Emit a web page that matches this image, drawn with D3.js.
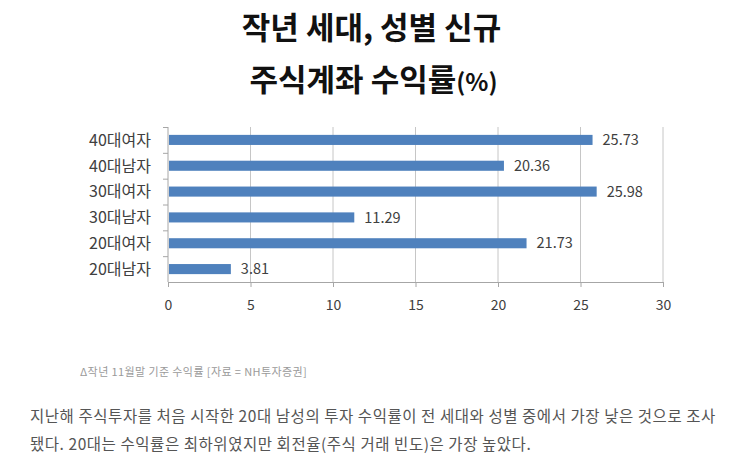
<!DOCTYPE html>
<html>
<head>
<meta charset="utf-8">
<script src="https://cdn.jsdelivr.net/npm/d3@7"></script>
<style>
  body { margin: 0; background: #fff; }
  text { font-family: "Noto Sans CJK KR", "Noto Sans", sans-serif; }
</style>
</head>
<body>
<div id="chart"></div>
<script>
// categories top to bottom, as shown
const categories = ["40대여자", "40대남자", "30대여자", "30대남자", "20대여자", "20대남자"];
const returns = [25.73, 20.36, 25.98, 11.29, 21.73, 3.81];
const xTicks = [0, 5, 10, 15, 20, 25, 30];

const titleLines = ["작년 세대, 성별 신규", "주식계좌 수익률"];
const note = "Δ작년 11월말 기준 수익률 [자료 = NH투자증권]";
const bodyLines = [
  "지난해 주식투자를 처음 시작한 20대 남성의 투자 수익률이 전 세대와 성별 중에서 가장 낮은 것으로 조사",
  "됐다. 20대는 수익률은 최하위였지만 회전율(주식 거래 빈도)은 가장 높았다."
];

const width = 743, height = 470;
const plot = { left: 168, right: 663, top: 127, bottom: 282 };

const svg = d3.select("#chart").append("svg")
  .attr("width", width)
  .attr("height", height);

// title
svg.append("text")
  .attr("x", width / 2).attr("y", 39)
  .attr("text-anchor", "middle")
  .attr("font-size", 31).attr("font-weight", "bold").attr("fill", "#111")
  .text(titleLines[0]);

const t2 = svg.append("text")
  .attr("x", width / 2 + 2).attr("y", 91)
  .attr("text-anchor", "middle")
  .attr("font-weight", "bold").attr("fill", "#111");
t2.append("tspan").attr("font-size", 31).text(titleLines[1]);
t2.append("tspan").attr("font-size", 24).text("(%)");

const x = d3.scaleLinear().domain([0, 30]).range([plot.left, plot.right]);
const y = d3.scaleBand().domain(categories).range([plot.top, plot.bottom]).paddingInner(0.61).paddingOuter(0.305);
const yTickScale = d3.scaleBand().domain(categories).range([plot.top, plot.bottom]);

// vertical gridlines
svg.append("g")
  .selectAll("line")
  .data(xTicks.slice(1))
  .join("line")
  .attr("x1", d => x(d)).attr("x2", d => x(d))
  .attr("y1", plot.top).attr("y2", plot.bottom)
  .attr("stroke", "#c6c6c6").attr("stroke-width", 1);

// x axis
const xAxis = svg.append("g")
  .attr("transform", `translate(0,${plot.bottom})`)
  .call(d3.axisBottom(x).tickValues(xTicks).tickSize(5).tickPadding(13));
xAxis.select(".domain").attr("stroke", "#a6a6a6");
xAxis.selectAll(".tick line").attr("stroke", "#a6a6a6");
xAxis.selectAll(".tick text")
  .attr("font-size", 14).attr("fill", "#404040")
  .style("font-family", "'Noto Sans CJK KR', sans-serif");

// y axis: line with tick marks between categories
svg.append("line")
  .attr("x1", plot.left).attr("x2", plot.left)
  .attr("y1", plot.top).attr("y2", plot.bottom)
  .attr("stroke", "#a6a6a6");
svg.append("g")
  .selectAll("line")
  .data(categories)
  .join("line")
  .attr("x1", plot.left - 5).attr("x2", plot.left)
  .attr("y1", d => yTickScale(d) + 0.5).attr("y2", d => yTickScale(d) + 0.5)
  .attr("stroke", "#a6a6a6");

// category labels
svg.append("g")
  .selectAll("text")
  .data(categories)
  .join("text")
  .attr("x", plot.left - 17)
  .attr("y", d => y(d) + y.bandwidth() / 2)
  .attr("dy", "0.36em")
  .attr("text-anchor", "end")
  .attr("font-size", 16).attr("fill", "#404040")
  .text(d => d);

// bars
svg.append("g")
  .selectAll("rect")
  .data(categories)
  .join("rect")
  .attr("x", x(0) + 1)
  .attr("y", (d) => y(d))
  .attr("width", (d, i) => x(returns[i]) - x(0) - 1)
  .attr("height", y.bandwidth())
  .attr("fill", "#4f81bd");

// value labels
svg.append("g")
  .selectAll("text")
  .data(categories)
  .join("text")
  .attr("x", (d, i) => x(returns[i]) + 10)
  .attr("y", d => y(d) + y.bandwidth() / 2)
  .attr("dy", "0.36em")
  .attr("font-size", 14.5).attr("fill", "#404040")
  .text((d, i) => returns[i].toFixed(2));

// source note
svg.append("text")
  .attr("x", 80).attr("y", 376)
  .attr("font-size", 11).attr("letter-spacing", 0.4).attr("fill", "#9a9a9a")
  .text(note);

// body text
svg.append("g")
  .selectAll("text")
  .data(bodyLines)
  .join("text")
  .attr("x", 30)
  .attr("y", (d, i) => 422 + i * 28)
  .attr("font-size", 15.5).attr("letter-spacing", 0.55).attr("fill", "#555")
  .text(d => d);
</script>
</body>
</html>
